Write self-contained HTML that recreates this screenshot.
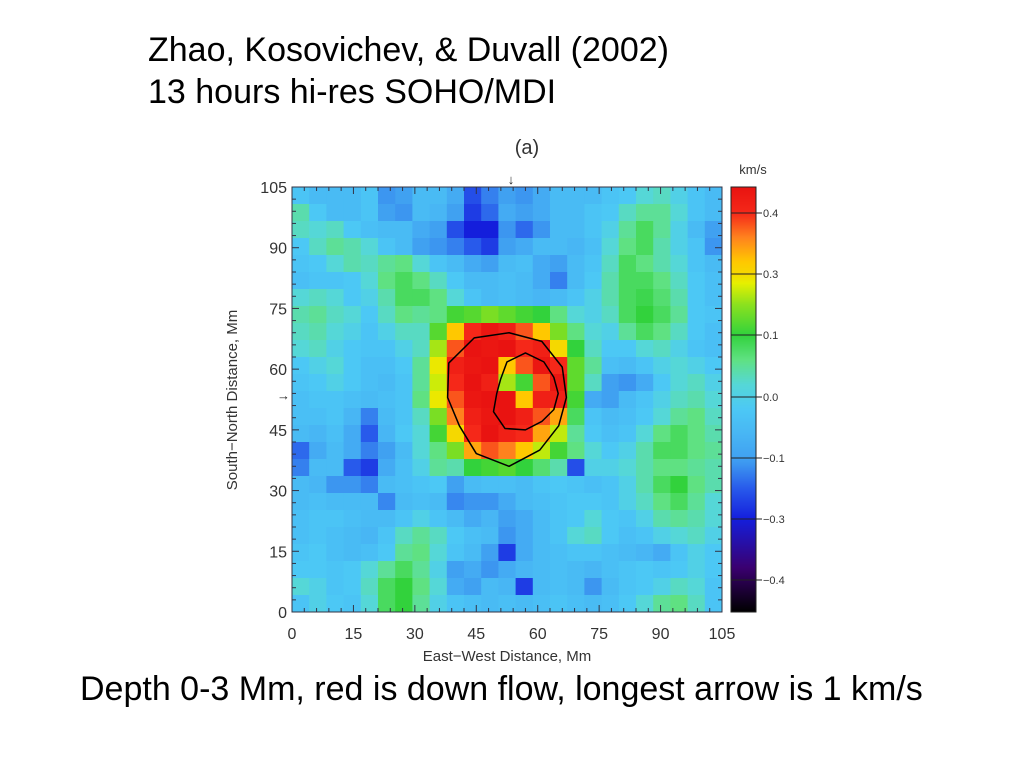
<!DOCTYPE html>
<html><head><meta charset="utf-8">
<style>
body{margin:0;width:1024px;height:768px;background:#fff;overflow:hidden;font-family:"Liberation Sans",sans-serif}
.t{position:absolute;font-size:34px;color:#000;white-space:nowrap;line-height:1}
</style></head><body>
<div class="t" style="left:148px;top:33px">Zhao, Kosovichev, &amp; Duvall (2002)</div>
<div class="t" style="left:148px;top:75px">13 hours hi-res SOHO/MDI</div>
<div class="t" style="left:80px;top:672px">Depth 0-3 Mm, red is down flow, longest arrow is 1 km/s</div>
<svg id="chart" width="1024" height="768" style="position:absolute;left:0;top:0" font-family="Liberation Sans, DejaVu Sans, sans-serif"></svg>
<script>
// velocity grid in hundredths of km/s, row 0 = top (105 Mm), col 0 = left (0 Mm)
const gridRows = [
[-3,-5,-5,-5,-3,-12,-10,-5,-5,-8,-22,-15,-10,-12,-8,-5,-5,-5,-3,-2,2,3,0,-3,-5],
[4,-2,-5,-5,-3,-10,-12,-5,-6,-10,-25,-18,-8,-10,-8,-5,-5,-3,-2,3,5,5,2,-3,-5],
[3,2,3,-2,-4,-5,-5,-8,-10,-22,-30,-30,-12,-18,-12,-5,-5,-3,0,5,8,5,0,-5,-10],
[-2,3,5,4,2,-3,-5,-10,-12,-15,-20,-25,-10,-8,-5,-5,-6,-4,2,6,8,4,0,-3,-12],
[-3,-2,2,4,3,5,6,2,-3,-5,-8,-10,-5,-4,-8,-10,-5,-3,3,8,6,4,2,-3,-5],
[-4,-3,-3,-2,2,6,8,6,3,-2,-5,-5,-4,-5,-8,-15,-5,-2,4,8,8,6,3,-2,-4],
[2,3,2,-2,0,4,8,8,6,2,-3,-5,-4,-5,-6,-5,-3,0,4,8,9,7,4,-2,-4],
[4,5,3,2,-2,3,6,5,6,12,14,18,15,12,10,6,2,0,3,8,10,8,5,-2,-3],
[3,4,2,0,-3,0,3,3,14,32,40,44,42,38,32,18,6,2,0,5,8,6,3,-2,-4],
[2,3,0,-2,-3,-3,0,3,22,38,45,44,45,40,42,30,10,3,-2,-2,2,3,0,-3,-4],
[-2,0,2,-2,-4,-4,-2,5,28,42,44,45,32,38,44,40,15,5,-4,-5,-3,0,2,0,-2],
[-3,-2,0,-2,-4,-5,-3,5,25,40,45,42,22,12,38,44,15,3,-10,-12,-8,-2,2,3,0],
[-4,-3,-3,-4,-5,-4,-3,6,28,38,44,45,45,32,42,42,12,-8,-10,-5,-3,0,3,4,2],
[-4,-4,-3,-6,-15,-5,-3,3,18,36,42,44,45,42,38,34,8,-3,-5,-4,-2,2,5,6,3],
[-5,-6,-4,-8,-20,-6,-2,2,12,30,40,45,42,40,34,24,5,-2,-4,-3,2,6,8,6,4],
[-18,-8,-5,-8,-15,-10,-5,2,6,18,34,38,36,32,24,12,6,2,-2,0,4,8,8,6,5],
[-15,-5,-5,-20,-25,-8,-4,0,5,4,10,12,14,10,7,4,-22,0,0,2,4,6,6,5,4],
[-5,-6,-12,-12,-15,-5,-4,-3,-2,-10,-5,-4,-4,-5,-3,-2,-3,-4,-3,0,4,8,10,6,4],
[-5,-4,-5,-5,-5,-14,-5,-4,-5,-14,-12,-12,-8,-5,-4,-3,-2,-2,-3,0,3,6,8,5,2],
[-4,-3,-3,-4,-5,-5,-3,0,-3,-5,-8,-6,-10,-8,-5,-3,-2,2,-2,-3,0,4,5,4,2],
[-4,-3,-4,-5,-6,-3,3,5,3,-2,-4,-5,-12,-8,-5,-3,2,3,-2,-4,-3,0,2,3,0],
[-3,-2,-4,-5,-4,-2,5,6,2,-3,-5,-10,-25,-8,-5,-4,-3,-3,-4,-5,-6,-8,-3,0,-2],
[-2,-2,-3,-2,2,5,8,5,0,-10,-8,-12,-8,-6,-5,-4,-5,-6,-4,-3,-2,-3,-2,0,-2],
[2,0,-3,-2,3,8,10,6,2,-8,-10,-5,-6,-25,-5,-4,-5,-12,-5,-3,-2,0,3,2,-3],
[-3,0,-2,-3,2,8,10,5,0,-3,-4,-5,-4,-5,-4,-3,-4,-5,-4,-2,2,5,6,3,-3]
];
const xTicks = [0,15,30,45,60,75,90,105];
const yTicks = [0,15,30,45,60,75,90,105];
const cbTicks = [0.4,0.3,0.1,0.0,-0.1,-0.3,-0.4];
const cbTickLabels = ["0.4","0.3","0.1","0.0","\u22120.1","\u22120.3","\u22120.4"];
// contour radii (Mm) by angle
const contourAngles = [0,30,60,90,120,150,180,210,240,270,300,330];
const outerRadii = [14,15,16,16,17,17,15,14,16,17,15,14];
const innerRadii = [8,8,9,10,9,7,7,9,10,9,8,8];

const svg = document.getElementById('chart');
const NS = 'http://www.w3.org/2000/svg';
const X0=292,X1=722,Y0=612,Y1=187;
const xs = v => X0 + (X1-X0)*v/105;
const ys = v => Y0 - (Y0-Y1)*v/105;
const stops = [[-45,[0,0,0]],[-38,[58,0,112]],[-30,[20,30,220]],[-20,[40,90,235]],[-12,[60,150,240]],[-6,[72,182,244]],[-2,[76,200,245]],[2,[85,215,215]],[6,[95,225,130]],[10,[50,210,60]],[20,[140,225,30]],[27,[230,240,0]],[32,[255,200,0]],[36,[255,130,30]],[40,[245,40,25]],[46,[230,15,15]]];
function color(v){
  if(v<=stops[0][0]) return 'rgb(0,0,0)';
  for(let i=1;i<stops.length;i++){
    if(v<=stops[i][0]){const a=stops[i-1],b=stops[i],t=(v-a[0])/(b[0]-a[0]);
      return 'rgb('+a[1].map((c,k)=>Math.round(c+(b[1][k]-c)*t)).join(',')+')';}
  }
  return 'rgb(230,15,15)';
}
function el(tag,attrs){const e=document.createElementNS(NS,tag);for(const k in attrs)e.setAttribute(k,attrs[k]);svg.appendChild(e);return e;}

const nR=gridRows.length,nC=gridRows[0].length,cw=105/nC,ch=105/nR;
gridRows.forEach((row,r)=>row.forEach((v,c)=>{
  const x=xs(c*cw),y=ys(105-r*ch);
  const e=el('rect',{x:x,y:y,width:xs((c+1)*cw)-x+0.5,height:ys(105-(r+1)*ch)-y+0.5,fill:color(v)});
  
  
}));

function contour(radii,cx,cy,name){
  const pts=contourAngles.map((a,i)=>{const t=a*Math.PI/180;return [xs(cx+radii[i]*Math.cos(t)),ys(cy+radii[i]*Math.sin(t))];});
  let d='M'+pts[0].join(',');pts.slice(1).forEach(p=>d+=' L'+p.join(','));d+=' Z';
  const e=el('path',{d:d,fill:'none',stroke:'#000','stroke-width':1.5,'stroke-linejoin':'round'});
  
  
}
contour(outerRadii,53,53,'outer-contour');
contour(innerRadii,57,54,'inner-contour');

const fr=el('rect',{x:X0,y:Y1,width:X1-X0,height:Y0-Y1,fill:'none',stroke:'#334','stroke-width':1});


for(let v=0;v<=105;v+=3){
  const L=(v%15===0)?7:4;
  el('line',{x1:xs(v),x2:xs(v),y1:Y0,y2:Y0-L,stroke:'#334'});
  el('line',{x1:xs(v),x2:xs(v),y1:Y1,y2:Y1+L,stroke:'#334'});
  el('line',{x1:X0,x2:X0+L,y1:ys(v),y2:ys(v),stroke:'#334'});
  el('line',{x1:X1,x2:X1-L,y1:ys(v),y2:ys(v),stroke:'#334'});
}
xTicks.forEach(v=>{const t=el('text',{x:xs(v),y:639,'font-size':16,'text-anchor':'middle',fill:'#333'});t.textContent=v;
  });
yTicks.forEach(v=>{const t=el('text',{x:287,y:ys(v)+6,'font-size':16,'text-anchor':'end',fill:'#333'});t.textContent=v;
  });
let t=el('text',{x:507,y:661,'font-size':15,'text-anchor':'middle',fill:'#333'});t.textContent='East\u2212West Distance, Mm';

t=el('text',{x:0,y:0,'font-size':15,'text-anchor':'middle',fill:'#333',transform:'translate(237,400) rotate(-90)'});t.textContent='South\u2212North Distance, Mm';

t=el('text',{x:527,y:154,'font-size':20,'text-anchor':'middle',fill:'#333'});t.textContent='(a)';

t=el('text',{x:511,y:184,'font-size':13,'text-anchor':'middle',fill:'#222'});t.textContent='\u2193';

t=el('text',{x:290,y:400,'font-size':13,'text-anchor':'end',fill:'#222'});t.textContent='\u2192';


const cbVals=[0.45,0.4,0.3,0.1,0.0,-0.1,-0.3,-0.4,-0.45];
const cbY=[187,213,274,335,397,458,519,580,612];
function cbYof(v){for(let i=1;i<cbVals.length;i++){if(v>=cbVals[i]){const t=(v-cbVals[i-1])/(cbVals[i]-cbVals[i-1]);return cbY[i-1]+t*(cbY[i]-cbY[i-1]);}}return 612;}
function cbVof(y){for(let i=1;i<cbY.length;i++){if(y<=cbY[i]){const t=(y-cbY[i-1])/(cbY[i]-cbY[i-1]);return cbVals[i-1]+t*(cbVals[i]-cbVals[i-1]);}}return -0.45;}
for(let y=187;y<612;y+=1){const e=el('rect',{x:731,y:y,width:25,height:1.2,fill:color(cbVof(y+0.5)*100)});
  }
const cbf=el('rect',{x:731,y:187,width:25,height:425,fill:'none',stroke:'#222'});

cbTicks.forEach((v,i)=>{const y=cbYof(v);el('line',{x1:731,x2:762,y1:y,y2:y,stroke:'#222'});
  const tt=el('text',{x:763,y:y+4,'font-size':11,fill:'#333'});tt.textContent=cbTickLabels[i];
  });
t=el('text',{x:753,y:174,'font-size':13,'text-anchor':'middle',fill:'#333'});t.textContent='km/s';

</script>
</body></html>
